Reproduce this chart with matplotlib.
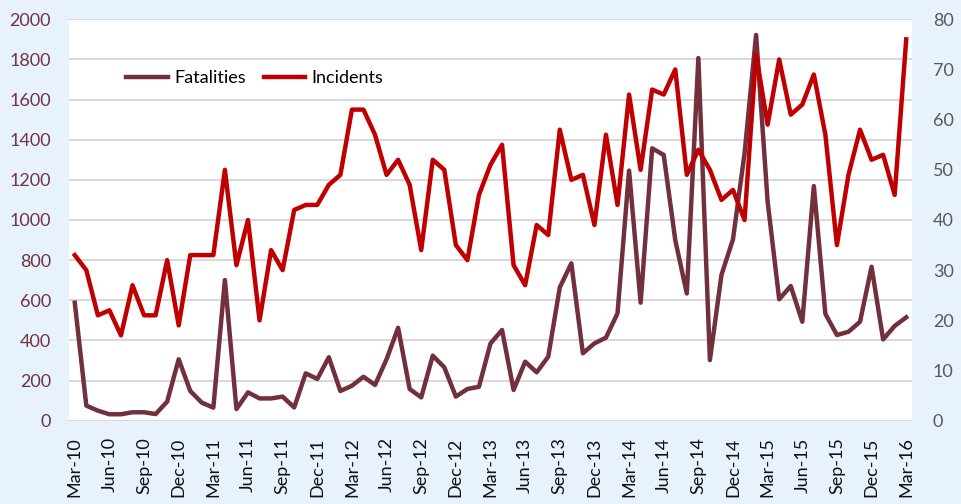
import numpy as np
import pandas as pd
import matplotlib.pyplot as plt

plt.rcParams['font.family'] = ['Lato', 'DejaVu Sans']

# monthly series, Mar-2010 .. Mar-2016
months = pd.date_range('2010-03-01', periods=73, freq='MS').strftime('%b-%y').tolist()

fatalities = [588, 75, 50, 32, 32, 42, 42, 33, 95, 306,
              148, 90, 65, 701, 58, 141, 111, 111, 120, 66,
              236, 208, 316, 148, 174, 219, 178, 306, 463, 158,
              116, 324, 266, 120, 158, 169, 385, 452, 153, 294,
              241, 319, 664, 784, 336, 385, 414, 535, 1246, 588,
              1357, 1324, 900, 634, 1807, 302, 726, 904, 1332, 1922,
              1091, 605, 671, 493, 1169, 532, 427, 443, 493, 767,
              405, 472, 515]

incidents = [33, 30, 21, 22, 17, 27, 21, 21, 32, 19,
             33, 33, 33, 50, 31, 40, 20, 34, 30, 42,
             43, 43, 47, 49, 62, 62, 57, 49, 52, 47,
             34, 52, 50, 35, 32, 45, 51, 55, 31, 27,
             39, 37, 58, 48, 49, 39, 57, 43, 65, 50,
             66, 65, 70, 49, 54, 50, 44, 46, 40, 73,
             59, 72, 61, 63, 69, 57, 35, 49, 58, 52,
             53, 45, 76]

bg = '#E8F2FC'
fat_color = '#722F3C'
inc_color = '#C00000'

fig = plt.figure(figsize=(9.61, 5.04), dpi=100, facecolor=bg)
ax = fig.add_axes([0.0718, 0.1653, 0.8772, 0.7964])
ax.set_facecolor('white')
ax2 = ax.twinx()

x = np.arange(len(months))
l1, = ax.plot(x, fatalities, color=fat_color, lw=3.2, label='Fatalities', solid_joinstyle='round')
l2, = ax2.plot(x, incidents, color=inc_color, lw=3.2, label='Incidents', solid_joinstyle='round')

ax.set_xlim(-0.5, len(months) - 0.5)
ax.set_ylim(0, 2000)
ax2.set_ylim(0, 80)
ax.set_yticks(np.arange(0, 2001, 200))
ax2.set_yticks(np.arange(0, 81, 10))
ax.grid(axis='y', color='#D9D9D9', lw=1.5)
ax.set_axisbelow(True)

ax.set_xticks(x[::3])
ax.set_xticklabels(months[::3], rotation=90, fontsize=13, color='#111111')

for a in (ax, ax2):
    for s in a.spines.values():
        s.set_visible(False)
    a.tick_params(length=0)

ax.tick_params(axis='y', labelsize=13, labelcolor='#6F3442', pad=13)
ax.tick_params(axis='x', pad=12)
ax2.tick_params(axis='y', labelsize=13, labelcolor='#595959', pad=15)

ax2.legend([l1, l2], ['Fatalities', 'Incidents'], loc='center left',
           bbox_to_anchor=(0.057, 0.854), ncol=2, frameon=False, fontsize=13,
           borderpad=0, handlelength=2.3, handletextpad=0.35, columnspacing=1.0)

fig.savefig('out.png', dpi=100, facecolor=bg)
